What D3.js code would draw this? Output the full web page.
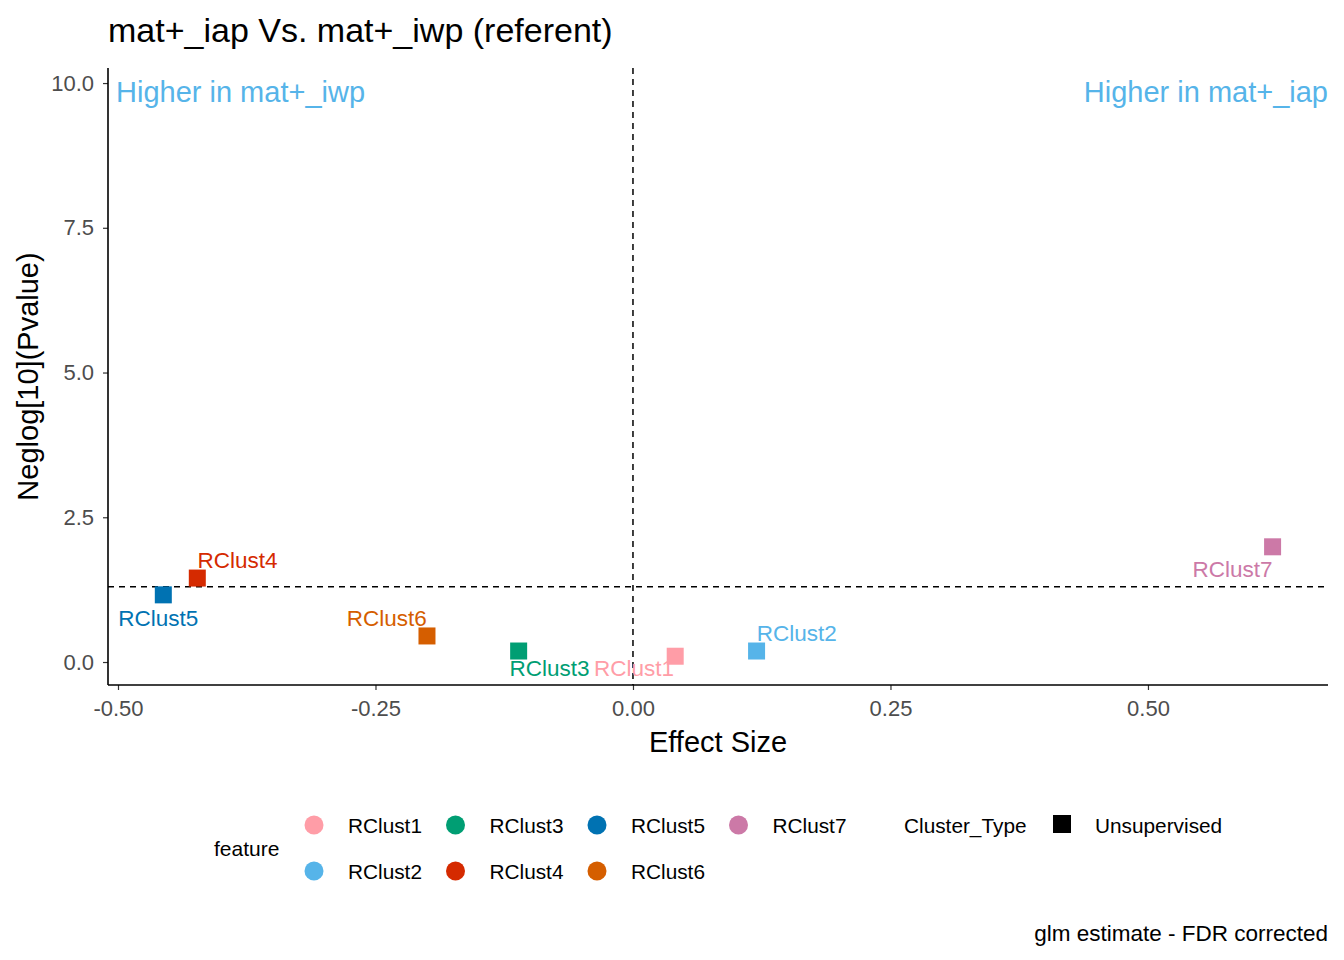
<!DOCTYPE html>
<html><head><meta charset="utf-8">
<script src="https://cdn.jsdelivr.net/npm/d3@7"></script>
<style>body{margin:0;background:#fff;} text{font-family:"Liberation Sans",Arial,sans-serif;}</style>
</head><body>
<svg id="c" width="1344" height="960"></svg>
<script>
const features = ["RClust1","RClust2","RClust3","RClust4","RClust5","RClust6","RClust7"];
const effectSize = [0.041, 0.120, -0.111, -0.423, -0.456, -0.200, 0.621];
const neglogP = [0.10, 0.19, 0.19, 1.45, 1.16, 0.45, 1.99];
const labelX = [0.001, 0.159, -0.081, -0.384, -0.461, -0.239, 0.582];
const labelY = [-0.11, 0.50, -0.11, 1.75, 0.76, 0.76, 1.59];
const colors = ["#FF9DA7","#56B4E9","#009E73","#D52A00","#0072B2","#D55E00","#CC79A7"];
const xTicks = [-0.50,-0.25,0.00,0.25,0.50];
const yTicks = [0.0,2.5,5.0,7.5,10.0];
const pThreshold = 1.30103;

const svg = d3.select("#c");
const L=108, R=1328, T=68, B=685;
const x = d3.scaleLinear().domain([-0.5097,0.6748]).range([L,R]);
const y = d3.scaleLinear().domain([-0.397,10.26]).range([B,T]);
const fmt2 = v => d3.format(".2f")(v).replace("\u2212","-");
const fmt1 = v => d3.format(".1f")(v).replace("\u2212","-");

// title
svg.append("text").attr("x",108).attr("y",42).attr("font-size",34).attr("fill","#000").text("mat+_iap Vs. mat+_iwp (referent)");

// axes
const xa = svg.append("g").attr("transform",`translate(0,${B})`).call(d3.axisBottom(x).tickValues(xTicks).tickFormat(fmt2).tickSize(5).tickPadding(10));
const ya = svg.append("g").attr("transform",`translate(${L},0)`).call(d3.axisLeft(y).tickValues(yTicks).tickFormat(fmt1).tickSize(5).tickPadding(9));
[xa,ya].forEach(g=>{
  g.select(".domain").remove();
  g.selectAll(".tick line").attr("stroke","#333").attr("stroke-width",1.2);
  g.selectAll(".tick text").attr("fill","#4D4D4D").attr("font-size",22).attr("font-family","Liberation Sans, Arial, sans-serif");
});
svg.append("line").attr("x1",L).attr("x2",R).attr("y1",B).attr("y2",B).attr("stroke","#000").attr("stroke-width",1.6);
svg.append("line").attr("x1",L).attr("x2",L).attr("y1",T).attr("y2",B).attr("stroke","#000").attr("stroke-width",1.6);

// reference lines
svg.append("line").attr("x1",x(0)).attr("x2",x(0)).attr("y1",T).attr("y2",B).attr("stroke","#000").attr("stroke-width",1.5).attr("stroke-dasharray","6,5");
svg.append("line").attr("x1",L).attr("x2",R).attr("y1",y(pThreshold)).attr("y2",y(pThreshold)).attr("stroke","#000").attr("stroke-width",1.5).attr("stroke-dasharray","6,5");

// annotations
svg.append("text").attr("x",116).attr("y",102).attr("font-size",29).attr("fill","#56B4E9").text("Higher in mat+_iwp");
svg.append("text").attr("x",1328).attr("y",102).attr("text-anchor","end").attr("font-size",29).attr("fill","#56B4E9").text("Higher in mat+_iap");

// points
const data = features.map((f,i)=>({f,x:effectSize[i],y:neglogP[i],lx:labelX[i],ly:labelY[i],c:colors[i]}));
const s=17;
svg.selectAll("rect.pt").data(data).join("rect").attr("class","pt")
  .attr("x",d=>x(d.x)-s/2).attr("y",d=>y(d.y)-s/2).attr("width",s).attr("height",s).attr("fill",d=>d.c);
svg.selectAll("text.lab").data(data).join("text").attr("class","lab")
  .attr("x",d=>x(d.lx)).attr("y",d=>y(d.ly)).attr("text-anchor","middle").attr("dominant-baseline","central")
  .attr("font-size",22.5).attr("fill",d=>d.c).text(d=>d.f);

// axis titles
svg.append("text").attr("x",(L+R)/2).attr("y",752).attr("text-anchor","middle").attr("font-size",29).text("Effect Size");
svg.append("text").attr("transform",`translate(38,${(T+B)/2}) rotate(-90)`).attr("text-anchor","middle").attr("font-size",29).text("Neglog[10](Pvalue)");

// legend
svg.append("text").attr("x",214).attr("y",856).attr("font-size",21).text("feature");
const lg = svg.append("g");
features.forEach((f,i)=>{
  const col=Math.floor(i/2), row=i%2;
  const cx=314+col*141.5, cy=825+row*46;
  lg.append("circle").attr("cx",cx).attr("cy",cy).attr("r",9.5).attr("fill",colors[i]);
  lg.append("text").attr("x",cx+34).attr("y",cy+7.5).attr("font-size",20.8).text(f);
});
svg.append("text").attr("x",904).attr("y",833).attr("font-size",20.8).text("Cluster_Type");
svg.append("rect").attr("x",1053).attr("y",815).attr("width",18).attr("height",18).attr("fill","#000");
svg.append("text").attr("x",1095).attr("y",833).attr("font-size",20.8).text("Unsupervised");

// caption
svg.append("text").attr("x",1328).attr("y",941).attr("text-anchor","end").attr("font-size",22.5).text("glm estimate - FDR corrected");
</script>
</body></html>
